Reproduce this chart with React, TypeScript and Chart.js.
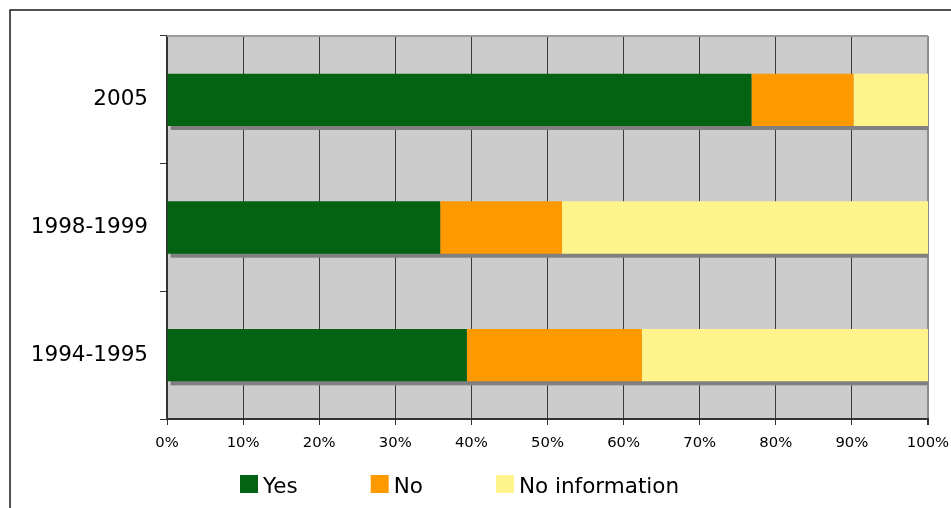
import React, { useEffect, useRef } from "react";
import { Chart, registerables } from "chart.js";

Chart.register(...registerables);

const categories = ["2005", "1998-1999", "1994-1995"];
const seriesNames = ["Yes", "No", "No information"];
const yesValues = [76.8, 35.9, 39.4];
const noValues = [13.4, 16.0, 23.0];
const noInfoValues = [9.8, 48.1, 37.6];
const seriesColors = ["#036312", "#FF9900", "#FFF38B"];
const xMin = 0;
const xMax = 100;
const xStep = 10;

const FONT = "'DejaVu Sans', Verdana, sans-serif";

const decorPlugin = {
  id: "decor",
  beforeDraw(chart: any) {
    const { ctx, chartArea: a } = chart;
    ctx.save();
    ctx.fillStyle = "#CCCCCC";
    ctx.fillRect(a.left, a.top, a.right - a.left, a.bottom - a.top);
    ctx.restore();
  },
  beforeDatasetsDraw(chart: any) {
    const { ctx, chartArea: a } = chart;
    ctx.save();
    ctx.strokeStyle = "#9A9A9A";
    ctx.lineWidth = 2;
    ctx.beginPath();
    ctx.moveTo(a.left, a.top);
    ctx.lineTo(a.right, a.top);
    ctx.stroke();
    ctx.beginPath();
    ctx.rect(a.left, a.top, a.right - a.left, a.bottom - a.top);
    ctx.clip();
    ctx.fillStyle = "#808080";
    const n = chart.data.labels.length;
    const metas = chart.data.datasets.map((_: any, i: number) => chart.getDatasetMeta(i));
    for (let j = 0; j < n; j++) {
      let left = Infinity;
      let right = -Infinity;
      let top = 0;
      let h = 0;
      metas.forEach((m: any) => {
        const el = m.data[j];
        if (!el) return;
        const p = el.getProps(["x", "y", "base", "height"], true);
        left = Math.min(left, p.base, p.x);
        right = Math.max(right, p.base, p.x);
        top = p.y - p.height / 2;
        h = p.height;
      });
      ctx.fillRect(left + 3, top + 4, right - left, h);
    }
    ctx.restore();
  },
  afterDraw(chart: any) {
    const { ctx } = chart;
    ctx.save();
    ctx.strokeStyle = "#1A1A1A";
    ctx.lineWidth = 1.5;
    ctx.beginPath();
    ctx.moveTo(10, chart.height + 2);
    ctx.lineTo(10, 10);
    ctx.lineTo(chart.width + 2, 10);
    ctx.stroke();
    ctx.font = `21.5px ${FONT}`;
    ctx.textBaseline = "alphabetic";
    ctx.textAlign = "left";
    let x = 240;
    const boxTop = 475;
    const box = 18;
    chart.data.datasets.forEach((ds: any) => {
      ctx.fillStyle = ds.backgroundColor;
      ctx.fillRect(x, boxTop, box, box);
      ctx.fillStyle = "#000";
      const tx = x + box + 5;
      ctx.fillText(ds.label, tx, boxTop + box);
      x = tx + ctx.measureText(ds.label).width + 73;
    });
    ctx.restore();
  },
};

export default function App() {
  const ref = useRef<HTMLCanvasElement>(null);
  useEffect(() => {
    if (!ref.current) return;
    const seriesValues = [yesValues, noValues, noInfoValues];
    const chart = new Chart(ref.current, {
      type: "bar",
      data: {
        labels: categories,
        datasets: seriesNames.map((name, i) => ({
          label: name,
          data: seriesValues[i],
          backgroundColor: seriesColors[i],
          borderWidth: 0,
          barPercentage: 1,
          categoryPercentage: 0.41,
        })),
      },
      options: {
        indexAxis: "y",
        responsive: false,
        animation: false,
        events: [],
        layout: { padding: { left: 0, top: 36, right: 23, bottom: 49 } },
        plugins: {
          legend: { display: false },
          tooltip: { enabled: false },
          title: { display: false },
        },
        scales: {
          x: {
            type: "linear",
            stacked: true,
            min: xMin,
            max: xMax,
            ticks: {
              stepSize: xStep,
              autoSkip: false,
              maxRotation: 0,
              color: "#000",
              padding: 9,
              font: { family: FONT, size: 14.8 },
              callback: (v: any) => `${v}%`,
            },
            grid: {
              color: (c: any) => (c.index === 10 ? "#8C8C8C" : "#3A3A3A"),
              lineWidth: (c: any) => (c.index === 10 ? 2 : 1),
              tickColor: "#333",
              tickLength: 6,
              drawTicks: true,
            },
            border: { display: true, color: "#333", width: 2 },
            afterFit: (s: any) => {
              s.height = 40;
              s.paddingLeft = 0;
              s.paddingRight = 0;
            },
          },
          y: {
            type: "category",
            stacked: true,
            ticks: {
              color: "#000",
              padding: 12,
              font: { family: FONT, size: 21.5 },
            },
            grid: {
              offset: true,
              drawOnChartArea: false,
              drawTicks: true,
              tickLength: 7,
              color: "#333",
              lineWidth: 1,
            },
            border: { display: true, color: "#333", width: 2 },
            afterFit: (s: any) => {
              s.width = 167;
              s.paddingTop = 0;
              s.paddingBottom = 0;
            },
          },
        },
      },
      plugins: [decorPlugin],
    } as any);
    return () => chart.destroy();
  }, []);
  return (
    <div style={{ position: "fixed", left: 0, top: 0, width: 951, height: 508, background: "#fff" }}>
      <canvas ref={ref} width={951} height={508} style={{ display: "block" }} />
    </div>
  );
}
